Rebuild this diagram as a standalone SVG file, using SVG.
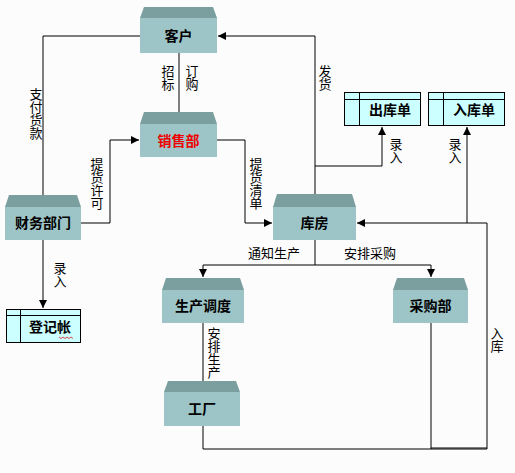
<svg xmlns="http://www.w3.org/2000/svg" width="515" height="473" viewBox="0 0 515 473">
<defs>
<style>
.top{fill:#7b9e9f}
.front{fill:#9dc5c7}
.nl{font-family:"Noto Sans CJK SC","Liberation Sans",sans-serif;font-size:14px;font-weight:bold;fill:#000;text-anchor:middle}
.lb{font-family:"Noto Sans CJK SC","Liberation Sans",sans-serif;font-size:13px;fill:#000}
.v{writing-mode:vertical-rl;text-anchor:start}
.ds{fill:#ccffff;stroke:#000;stroke-width:1}
.ln{fill:none;stroke:#000;stroke-width:1}
</style>
<marker id="ar" viewBox="0 0 10 10" refX="10" refY="5" markerWidth="8" markerHeight="8" markerUnits="userSpaceOnUse" orient="auto">
<path d="M0,0 L10,5 L0,10 z" fill="#000"/>
</marker>
</defs>
<rect width="515" height="473" fill="#fcfcfc"/>
<g id="connectors">
<path class="ln" d="M140,36 H43 V195"/>
<path class="ln" d="M179,53 V123" marker-end="url(#ar)"/>
<path class="ln" d="M315,194 V36 H218" marker-end="url(#ar)"/>
<path class="ln" d="M81,223 H110 V140 H139" marker-end="url(#ar)"/>
<path class="ln" d="M217,140 H245 V223 H272" marker-end="url(#ar)"/>
<path class="ln" d="M315,166 H382 V127" marker-end="url(#ar)"/>
<path class="ln" d="M43,240 V308" marker-end="url(#ar)"/>
<path class="ln" d="M315,240 V265 H203 V277" marker-end="url(#ar)"/>
<path class="ln" d="M315,265 H431 V277" marker-end="url(#ar)"/>
<path class="ln" d="M203,323 V391" marker-end="url(#ar)"/>
<path class="ln" d="M203,426 V449 H487 V223 H357" marker-end="url(#ar)"/>
<path class="ln" d="M431,323 V449"/>
<path class="ln" d="M431,448 H487"/>
<path class="ln" d="M467,223 V127" marker-end="url(#ar)"/>
</g>
<g id="labels" class="lb">
<text class="v" x="168" y="65">招标</text>
<text class="v" x="192" y="65">订购</text>
<text class="v" x="325" y="65">发货</text>
<text class="v" x="36" y="88">支付货款</text>
<text class="v" x="97" y="158">提货许可</text>
<text class="v" x="256" y="158">提货清单</text>
<text class="v" x="396" y="138">录入</text>
<text class="v" x="455" y="138">录入</text>
<text class="v" x="60" y="262">录入</text>
<text x="274" y="258" text-anchor="middle">通知生产</text>
<text x="370" y="258" text-anchor="middle">安排采购</text>
<text class="v" x="214" y="327">安排生产</text>
<text class="v" x="497" y="327">入库</text>
</g>
<g id="kehu"><polygon class="top" points="144,7 213,7 217,18 140,18"/><rect class="front" x="140" y="18" width="77" height="35"/><text class="nl" x="178.5" y="41">客户</text></g>
<g id="xiaoshou"><polygon class="top" points="144,112 213,112 217,124 140,124"/><rect class="front" x="140" y="124" width="77" height="33"/><text class="nl" x="178.5" y="146" style="fill:#ee0000">销售部</text></g>
<g id="caiwu"><polygon class="top" points="9,195 77,195 81,207 5,207"/><rect class="front" x="5" y="207" width="76" height="33"/><text class="nl" x="43" y="228">财务部门</text></g>
<g id="kufang"><polygon class="top" points="277,194 352,194 356,207 273,207"/><rect class="front" x="273" y="207" width="83" height="33"/><text class="nl" x="314.5" y="228">库房</text></g>
<g id="shengchan"><polygon class="top" points="166,278 240,278 244,290 162,290"/><rect class="front" x="162" y="290" width="82" height="33"/><text class="nl" x="203" y="311">生产调度</text></g>
<g id="caigou"><polygon class="top" points="397,278 464,278 468,290 393,290"/><rect class="front" x="393" y="290" width="75" height="33"/><text class="nl" x="430.5" y="311">采购部</text></g>
<g id="gongchang"><polygon class="top" points="168,381 236,381 240,392 164,392"/><rect class="front" x="164" y="392" width="76" height="34"/><text class="nl" x="202" y="414">工厂</text></g>
<g id="chukudan"><rect class="ds" x="344.5" y="92.5" width="76" height="33"/><path class="ln" d="M344.5,99.5 H420.5 M359.5,92.5 V125.5"/><text class="nl" x="390" y="115">出库单</text></g>
<g id="rukudan"><rect class="ds" x="428.5" y="92.5" width="76" height="33"/><path class="ln" d="M428.5,99.5 H504.5 M443.5,92.5 V125.5"/><text class="nl" x="474" y="115">入库单</text></g>
<g id="dengjizhang"><rect class="ds" x="6.5" y="309.5" width="74" height="33"/><path class="ln" d="M6.5,315.5 H80.5 M20.5,309.5 V342.5"/><text class="nl" x="50" y="332">登记帐</text><path d="M59,337 l2,1.5 l2,-1.5 l2,1.5 l2,-1.5 l2,1.5 l2,-1.5 l2,1.5" fill="none" stroke="#e02020" stroke-width="0.8"/></g>
</svg>
